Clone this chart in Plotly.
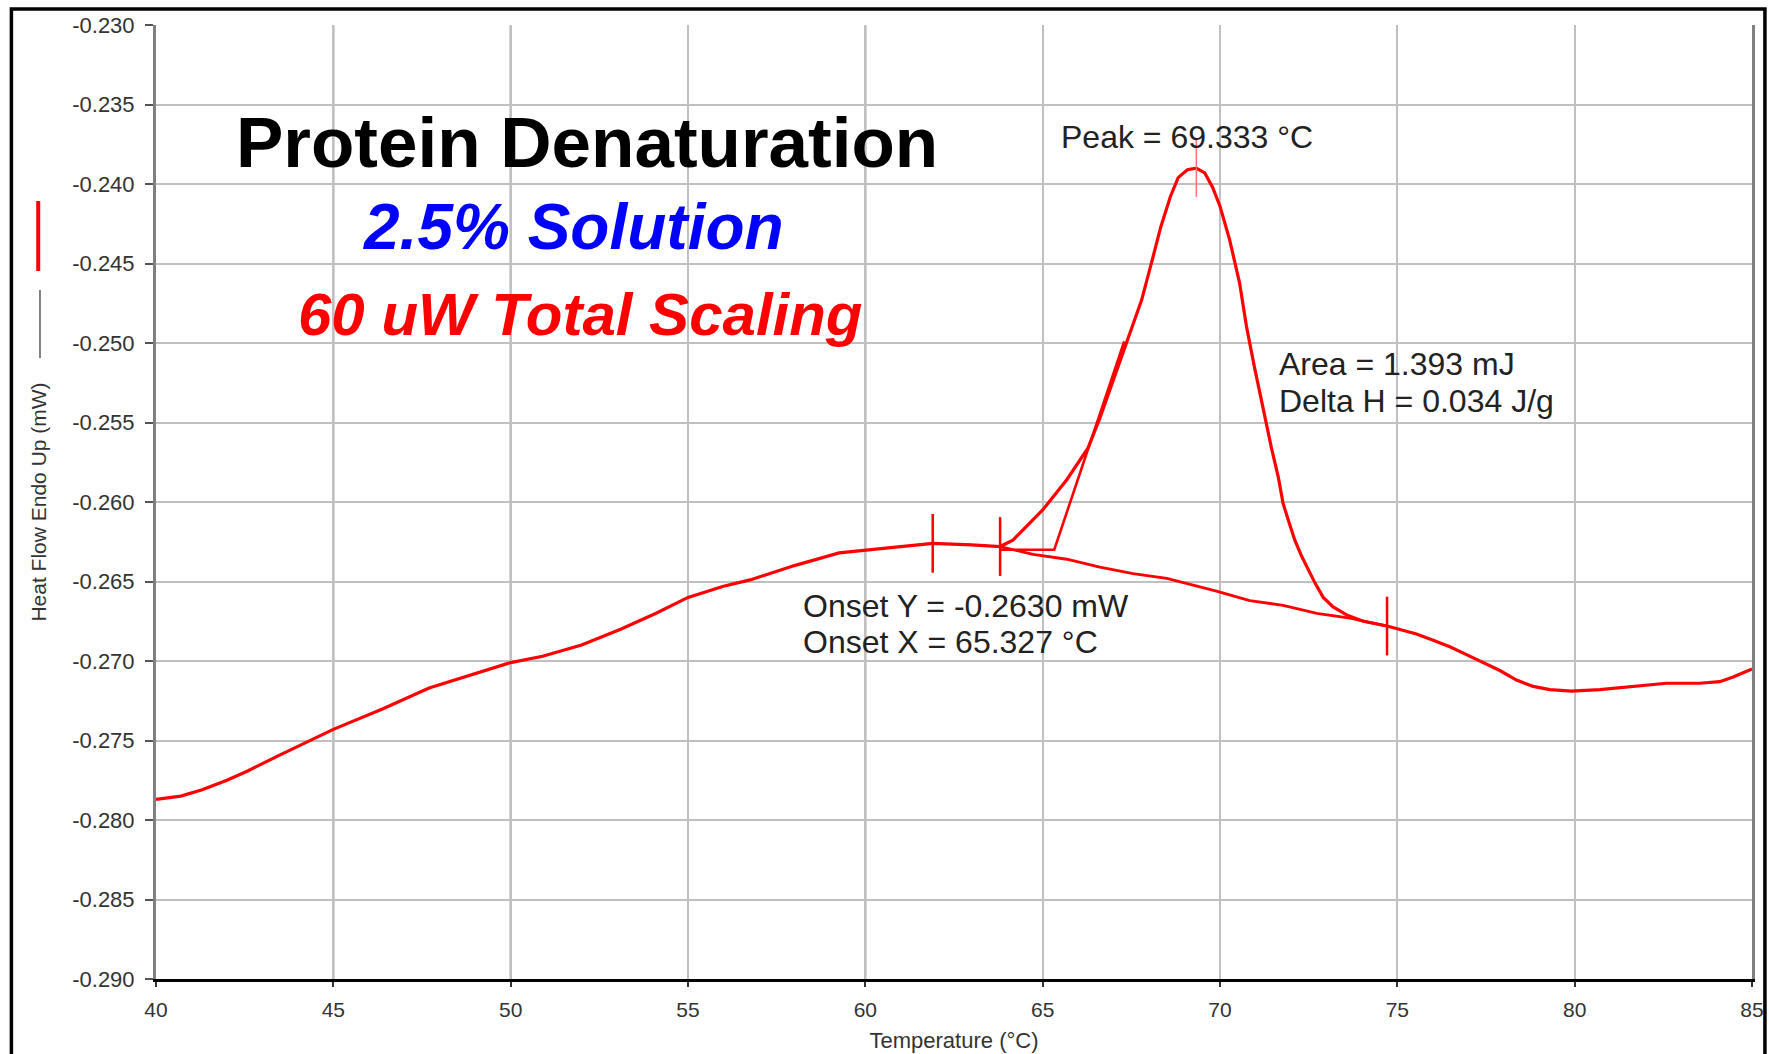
import plotly.graph_objects as go

# ---------------- data ----------------
temperature = [40.0, 40.7, 41.3, 42.0, 42.6, 43.5, 45.0, 46.4, 47.7, 49.0, 50.0, 50.9,
               52.0, 53.1, 54.1, 55.0, 56.0, 56.75, 58.0, 59.26, 60.5, 61.9, 63.0, 63.8,
               64.16, 65.0, 65.68, 66.28, 66.6, 67.03, 67.46, 67.79, 68.11, 68.33, 68.6,
               68.82, 69.08, 69.33, 69.57, 69.79, 70.0, 70.27, 70.55, 70.75, 70.97, 71.24,
               71.45, 71.64, 71.78, 71.92, 72.11, 72.30, 72.49, 72.68, 72.91, 73.19, 73.57,
               74.04, 74.71, 75.07, 75.54, 76.01, 76.48, 76.95, 77.42, 77.89, 78.36, 78.83,
               79.30, 79.91, 80.71, 81.65, 82.59, 83.53, 84.09, 84.47, 85.0]
heat_flow = [-0.2787, -0.2785, -0.2781, -0.2775, -0.2769, -0.2759, -0.2743, -0.2730,
             -0.2717, -0.2708, -0.2701, -0.2697, -0.2690, -0.2680, -0.2670, -0.2660,
             -0.2653, -0.2649, -0.2640, -0.2632, -0.2629, -0.2626, -0.2627, -0.2628,
             -0.2624, -0.2605, -0.2586, -0.2566, -0.2548, -0.2521, -0.2494, -0.2473,
             -0.2446, -0.2427, -0.2408, -0.2396, -0.2391, -0.2390, -0.2393, -0.2402,
             -0.2414, -0.2435, -0.2462, -0.2490, -0.2515, -0.2544, -0.2566, -0.2584,
             -0.2601, -0.2611, -0.2624, -0.2634, -0.2643, -0.2651, -0.2660, -0.2666,
             -0.2671, -0.2675, -0.2678, -0.2680, -0.2683, -0.2687, -0.2691, -0.2696,
             -0.2701, -0.2706, -0.2712, -0.2716, -0.2718, -0.2719, -0.2718, -0.2716,
             -0.2714, -0.2714, -0.2713, -0.2710, -0.2705]

# integration baseline under the peak
baseline_temp = [63.8, 64.73, 65.68, 66.61, 67.55, 68.5, 69.9, 70.84, 71.78, 72.73, 73.66, 74.71]
baseline_flow = [-0.2628, -0.2633, -0.2636, -0.2641, -0.2645, -0.2648, -0.2656, -0.2662,
                 -0.2665, -0.2670, -0.2673, -0.2678]

# onset construction (extrapolated baseline + tangent)
onset_temp = [63.8, 65.327, 67.3]
onset_flow = [-0.2630, -0.2630, -0.2499]

# analysis limit markers and peak marker
limit_temp = [61.9, 63.8, 74.71]
limit_flow = [-0.2626, -0.2628, -0.2678]
peak_temp = [69.333]
peak_flow = [-0.2390]

x_ticks = [40, 45, 50, 55, 60, 65, 70, 75, 80, 85]
y_ticks = [-0.290, -0.285, -0.280, -0.275, -0.270, -0.265, -0.260, -0.255, -0.250,
           -0.245, -0.240, -0.235, -0.230]
dark_grid_x = [45, 50, 60, 70]
dark_grid_y = [-0.270, -0.280]

title_text = "Protein Denaturation"
subtitle_text = "2.5% Solution"
scaling_text = "60 uW Total Scaling"
peak_text = "Peak = 69.333 °C"
area_text = "Area = 1.393 mJ"
delta_text = "Delta H = 0.034 J/g"
onset_y_text = "Onset Y = -0.2630 mW"
onset_x_text = "Onset X = 65.327 °C"

RED = "#ff0000"
FONT = "Liberation Sans, Arial, sans-serif"

fig = go.Figure()

fig.add_trace(go.Scatter(x=baseline_temp, y=baseline_flow, mode="lines",
                         line=dict(color=RED, width=2.8), hoverinfo="skip"))
fig.add_trace(go.Scatter(x=onset_temp, y=onset_flow, mode="lines",
                         line=dict(color=RED, width=2.6), hoverinfo="skip"))
fig.add_trace(go.Scatter(x=temperature, y=heat_flow, mode="lines",
                         line=dict(color=RED, width=3.2), name="Heat Flow"))
fig.add_trace(go.Scatter(x=limit_temp, y=limit_flow, mode="markers",
                         marker=dict(symbol="line-ns", size=42, color=RED,
                                     line=dict(color=RED, width=2.5)),
                         hoverinfo="skip"))
fig.add_trace(go.Scatter(x=peak_temp, y=peak_flow, mode="markers",
                         marker=dict(symbol="line-ns", size=41, color="#ff7070",
                                     line=dict(color="#ff7070", width=1.5)),
                         hoverinfo="skip"))

shapes = []
for xv in dark_grid_x:
    shapes.append(dict(type="line", xref="x", yref="paper", x0=xv, x1=xv, y0=0, y1=1,
                       line=dict(color="#808080", width=2), layer="between"))
for yv in dark_grid_y:
    shapes.append(dict(type="line", xref="paper", yref="y", x0=0, x1=1, y0=yv, y1=yv,
                       line=dict(color="#808080", width=2), layer="between"))
# outer frame
shapes.append(dict(type="rect", xref="paper", yref="paper", x0=-0.0906, x1=1.0081,
                   y0=-0.12, y1=1.0168, line=dict(color="black", width=3.5),
                   fillcolor="rgba(0,0,0,0)", layer="above"))
# legend-like marks at the left
shapes.append(dict(type="line", xref="paper", yref="paper", x0=-0.0738, x1=-0.0738,
                   y0=0.7421, y1=0.8155, line=dict(color=RED, width=4)))
shapes.append(dict(type="line", xref="paper", yref="paper", x0=-0.0727, x1=-0.0727,
                   y0=0.6509, y1=0.7222, line=dict(color="#808080", width=2)))

small = dict(family=FONT, size=32, color="#222222")
annotations = [
    dict(x=52.15, y=-0.23736, text=title_text, showarrow=False, xanchor="center",
         yanchor="middle", font=dict(family=FONT, size=71, color="black", weight="bold")),
    dict(x=51.76, y=-0.24270, text=f"<i>{subtitle_text}</i>", showarrow=False,
         xanchor="center", yanchor="middle",
         font=dict(family=FONT, size=64, color="#0000ff", weight="bold")),
    dict(x=51.98, y=-0.24818, text=f"<i>{scaling_text}</i>", showarrow=False,
         xanchor="center", yanchor="middle",
         font=dict(family=FONT, size=60, color=RED, weight="bold")),
    dict(x=65.46, y=-0.23704, text=peak_text, showarrow=False, xanchor="left",
         yanchor="middle", font=small),
    dict(x=71.60, y=-0.25132, text=area_text, showarrow=False, xanchor="left",
         yanchor="middle", font=small),
    dict(x=71.60, y=-0.25365, text=delta_text, showarrow=False, xanchor="left",
         yanchor="middle", font=small),
    dict(x=58.18, y=-0.26654, text=onset_y_text, showarrow=False, xanchor="left",
         yanchor="middle", font=small),
    dict(x=58.18, y=-0.26881, text=onset_x_text, showarrow=False, xanchor="left",
         yanchor="middle", font=small),
]

fig.update_layout(
    width=1769, height=1054,
    margin=dict(l=156, r=17, t=25, b=75),
    paper_bgcolor="white", plot_bgcolor="white",
    showlegend=False,
    shapes=shapes, annotations=annotations,
    font=dict(family=FONT, color="#222222"),
)
fig.update_xaxes(
    range=[40, 85], tickvals=x_ticks, ticktext=[str(v) for v in x_ticks],
    ticks="outside", ticklen=5, tickwidth=2, tickcolor="#333333",
    showline=True, linecolor="black", linewidth=3, mirror=False,
    showgrid=True, gridcolor="#c0c0c0", gridwidth=2, zeroline=False,
    tickfont=dict(family=FONT, size=21, color="#333333"),
    ticklabelstandoff=5, automargin=False,
    title=dict(text="Temperature (°C)", standoff=13,
               font=dict(family=FONT, size=22, color="#333333")),
)
fig.update_yaxes(
    range=[-0.290, -0.230], tickvals=y_ticks, ticktext=[f"{v:.3f}" for v in y_ticks],
    ticks="outside", ticklen=8, tickwidth=2, tickcolor="#555555",
    showline=True, linecolor="#808080", linewidth=3, mirror=True,
    showgrid=True, gridcolor="#c0c0c0", gridwidth=2, zeroline=False,
    tickfont=dict(family=FONT, size=22, color="#333333"),
    ticklabelstandoff=6, automargin=False,
    title=dict(text="Heat Flow Endo Up (mW)", standoff=20,
               font=dict(family=FONT, size=21, color="#333333")),
)

fig.write_html("out.html")
